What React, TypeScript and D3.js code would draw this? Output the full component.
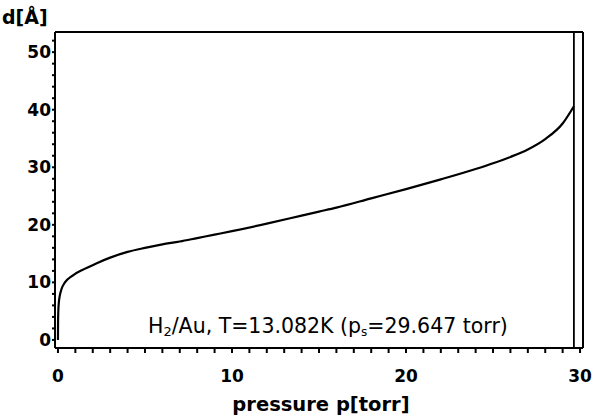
import React from "react";
import * as d3 from "d3";

const pressure = [0, 0.005, 0.02, 0.05, 0.1, 0.2, 0.4, 0.8, 1.5, 2.2, 3, 4, 5, 6, 7, 8, 9, 10, 12, 14, 15, 16, 18, 20, 22, 24, 25, 26, 27, 28, 29, 29.647];
const thickness = [0, 3, 5, 6.5, 7.6, 8.8, 10, 11.1, 12.3, 13.3, 14.3, 15.3, 16, 16.6, 17.1, 17.7, 18.3, 18.9, 20.2, 21.6, 22.3, 23, 24.6, 26.2, 27.9, 29.7, 30.7, 31.8, 33.1, 34.9, 37.6, 40.6];
const xTickLabels = [0, 10, 20, 30];
const yTickLabels = [0, 10, 20, 30, 40, 50];
const saturationPressure = 29.647;

export default function App() {
  const W = 593, H = 418;
  const left = 55, right = 583, top = 32, bottom = 348;
  const x = d3.scaleLinear().domain([-0.17, 30.17]).range([left, right]);
  const y = d3.scaleLinear().domain([-1.4, 53.5]).range([bottom, top]);
  const pts: [number, number][] = pressure.map((p, i) => [p, thickness[i]]);
  const line = d3.line<[number, number]>().x(d => x(d[0])).y(d => y(d[1])).curve(d3.curveMonotoneX);
  const xMinor = d3.range(0, 31, 1);
  const yMinor = d3.range(0, 53, 2);
  const font = "'DejaVu Sans', Verdana, sans-serif";
  return (
    <svg width={W} height={H} style={{ position: "absolute", left: 0, top: 0, background: "#fff" }}>
      <rect x={0} y={0} width={W} height={H} fill="#fff" />
      <g stroke="#000" strokeWidth={2} fill="none">
        <line x1={left} y1={top} x2={right} y2={top} />
        <line x1={left} y1={top} x2={left} y2={bottom} />
        <line x1={left} y1={bottom} x2={right} y2={bottom} />
        <line x1={right} y1={top} x2={right} y2={bottom} />
        <line x1={x(saturationPressure)} y1={top} x2={x(saturationPressure)} y2={bottom} strokeWidth={1.8} />
        {xMinor.map(v => (
          <line key={"xt" + v} x1={x(v)} x2={x(v)} y1={bottom} y2={bottom + 5} />
        ))}
        {yMinor.map(v => (
          <line key={"yt" + v} x1={left - 3} x2={left} y1={y(v)} y2={y(v)} />
        ))}
        <path d={line(pts) || ""} strokeWidth={2.2} />
      </g>
      <g fontFamily={font} fontSize={17} fill="#000" fontWeight="bold">
        {xTickLabels.map(v => (
          <text key={"xl" + v} x={x(v)} y={382} textAnchor="middle">{v}</text>
        ))}
        {yTickLabels.map(v => (
          <text key={"yl" + v} x={left - 4} y={y(v) + 6} textAnchor="end">{v}</text>
        ))}
        <text x={2} y={24} fontSize={19}>d[Å]</text>
        <text x={321} y={411} textAnchor="middle" fontSize={19.5}>pressure p[torr]</text>
      </g>
      <text x={148} y={333} fontFamily={font} fontSize={20.5} fill="#000">
        H<tspan fontSize={13} dy={3}>2</tspan><tspan dy={-3}>/Au, T=13.082K (p</tspan><tspan fontSize={12} dy={3}>s</tspan><tspan dy={-3}>=29.647 torr)</tspan>
      </text>
    </svg>
  );
}
